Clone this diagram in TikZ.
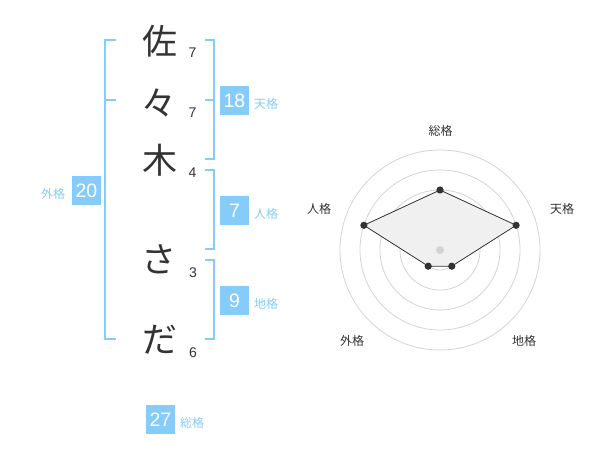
\documentclass[tikz,border=0pt]{standalone}
\usepackage{fontspec}
\setmainfont{Liberation Sans}
\newfontfamily\jp{Noto Sans CJK JP}
\definecolor{sky}{RGB}{134,204,250}
\definecolor{ink}{RGB}{51,51,51}
\definecolor{ring}{RGB}{212,212,212}
\definecolor{area}{RGB}{240,240,240}
\begin{document}
\begin{tikzpicture}[x=1pt,y=-1pt,
  kanji/.style={font=\jp\fontsize{35}{35}\selectfont, text=ink, inner sep=0},
  strokes/.style={font=\fontsize{14}{14}\selectfont, text=ink, inner sep=0},
  bx/.style={fill=sky, text=white, font=\fontsize{19.5}{19.5}\selectfont, minimum width=29, minimum height=29, inner sep=0},
  lbl/.style={text=sky, font=\jp\fontsize{12}{12}\selectfont, inner sep=0},
  brk/.style={draw=sky, line width=2},
  axislbl/.style={text=ink, font=\jp\fontsize{12}{12}\selectfont, inner sep=0},
  ringline/.style={draw=ring, line width=0.8},
  dot/.style={fill=ink, draw=none},
]
\useasboundingbox (0,0) rectangle (600,470);
\fill[white] (0,0) rectangle (600,470);

% characters
\node[kanji] (c1) at (160,41) {佐};
\node[kanji] (c2) at (159,103) {々};
\node[kanji] (c3) at (160,160) {木};
\node[kanji] (c4) at (159,259) {さ};
\node[kanji] (c5) at (160,340) {だ};

% stroke counts
\node[strokes] (n1) at (192.5,52.5) {7};
\node[strokes] (n2) at (192.5,112.5) {7};
\node[strokes] (n3) at (192.5,172.5) {4};
\node[strokes] (n4) at (193,272.5) {3};
\node[strokes] (n5) at (193,352.5) {6};

% brackets
\coordinate (La) at (116,40); \coordinate (Lb) at (105,40);
\coordinate (Lc) at (105,339); \coordinate (Ld) at (116,339);
\coordinate (Lm1) at (105,100); \coordinate (Lm2) at (116,100);
\draw[brk] (La) -- (Lb) -- (Lc) -- (Ld);
\draw[brk] (Lm1) -- (Lm2);

\coordinate (Ta) at (205,40); \coordinate (Tb) at (214,40);
\coordinate (Tc) at (214,159); \coordinate (Td) at (205,159);
\coordinate (Tm1) at (214,100); \coordinate (Tm2) at (205,100);
\draw[brk] (Ta) -- (Tb) -- (Tc) -- (Td);
\draw[brk] (Tm1) -- (Tm2);

\coordinate (Ja) at (205,170); \coordinate (Jb) at (214,170);
\coordinate (Jc) at (214,249); \coordinate (Jd) at (205,249);
\draw[brk] (Ja) -- (Jb) -- (Jc) -- (Jd);

\coordinate (Ca) at (205,260); \coordinate (Cb) at (214,260);
\coordinate (Cc) at (214,339); \coordinate (Cd) at (205,339);
\draw[brk] (Ca) -- (Cb) -- (Cc) -- (Cd);

% boxes and labels
\node[bx] (b20) at (86.5,190.5) {20};
\node[lbl] (l20) at (53,194) {外格};
\node[bx] (b18) at (234.5,100.3) {18};
\node[lbl] (l18) at (266,104) {天格};
\node[bx] (b7) at (234.5,210.3) {7};
\node[lbl] (l7) at (266,214) {人格};
\node[bx] (b9) at (234.5,300.3) {9};
\node[lbl] (l9) at (266,304) {地格};
\node[bx] (b27) at (160.5,419.3) {27};
\node[lbl] (l27) at (192,423) {総格};

% radar chart
\coordinate (rc) at (440,250);
\foreach \r in {20,40,60,80,100} \draw[ringline] (rc) circle (\r);
\coordinate (p1) at (440,190);
\coordinate (p2) at (516.1,225.3);
\coordinate (p3) at (451.8,266.2);
\coordinate (p4) at (428.2,266.2);
\coordinate (p5) at (363.9,225.3);
\draw[fill=area, draw=ink, line width=0.8] (p1) -- (p2) -- (p3) -- (p4) -- (p5) -- cycle;
\fill[ring] (rc) circle (4);
\foreach \p in {p1,p2,p3,p4,p5} \fill[dot] (\p) circle (3.6);

\node[axislbl] (a1) at (440.7,130.7) {総格};
\node[axislbl] (a2) at (562,209) {天格};
\node[axislbl] (a3) at (524,341) {地格};
\node[axislbl] (a4) at (352,341) {外格};
\node[axislbl] (a5) at (319,209) {人格};
\end{tikzpicture}
\end{document}
